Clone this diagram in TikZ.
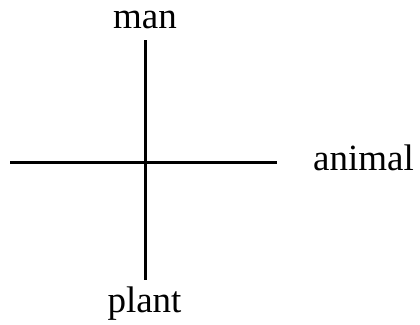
\documentclass[tikz,border=0pt]{standalone}
\usepackage{fontspec}
\setmainfont{Liberation Serif}
\begin{document}
\begin{tikzpicture}[x=1pt,y=-1pt,
  axis/.style={line width=3pt,black},
  lbl/.style={inner sep=0pt,font=\fontsize{37}{44}\selectfont}]
\useasboundingbox (0,0) rectangle (420,324);
\coordinate (top) at (145,40);
\coordinate (bottom) at (145,280);
\coordinate (left) at (10,162.5);
\coordinate (right) at (277,162.5);
\draw[axis] (top) -- (bottom);
\draw[axis,line width=3.5pt] (left) -- (right);
\node[lbl,anchor=base] (man) at (145,28) {man};
\node[lbl,anchor=base west] (animal) at (313,170) {animal};
\node[lbl,anchor=base] (plant) at (144.5,312) {plant};
\end{tikzpicture}
\end{document}
